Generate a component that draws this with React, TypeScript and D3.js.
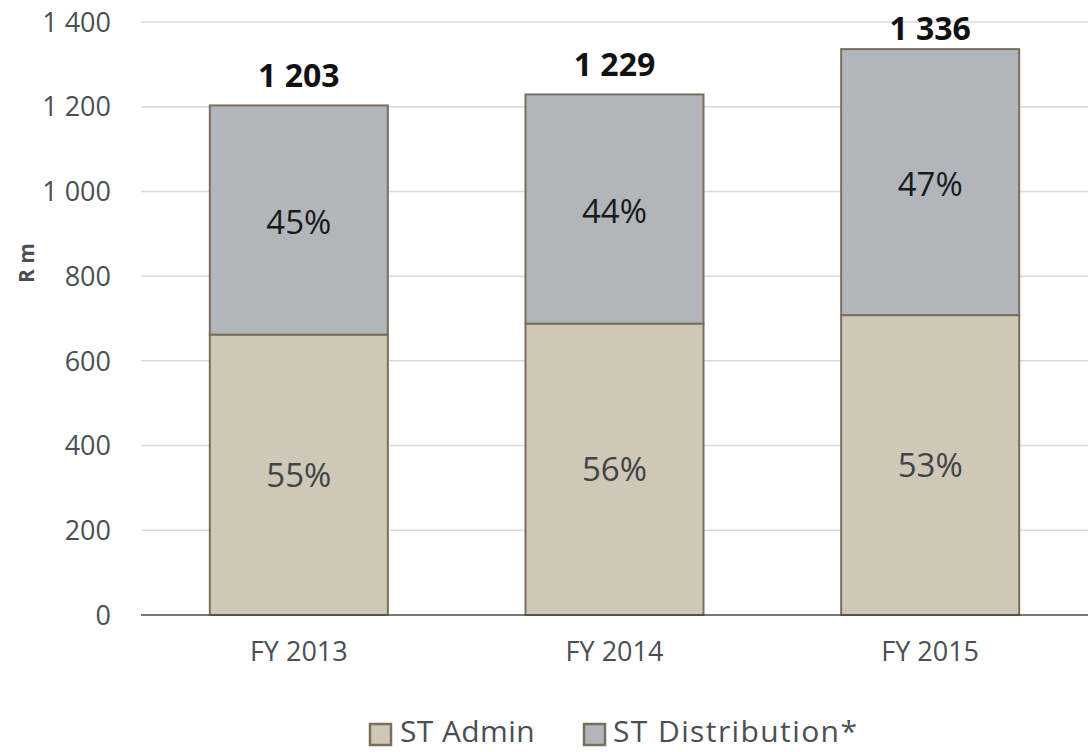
import { useMemo } from 'react';
import * as d3 from 'd3';

const categories = ['FY 2013', 'FY 2014', 'FY 2015'];
const admin = [662, 688, 708];
const distribution = [541, 541, 628];
const totals = [1203, 1229, 1336];
const adminPct = ['55%', '56%', '53%'];
const distPct = ['45%', '44%', '47%'];
const yTicks = [0, 200, 400, 600, 800, 1000, 1200, 1400];

const W = 1092;
const H = 752;
const margin = { top: 22, right: 4, bottom: 137, left: 141 };
const FONT = '"Open Sans", "Noto Sans", sans-serif';

const fmt = d3.formatLocale({ decimal: '.', thousands: ' ', grouping: [3], currency: ['', ''] }).format(',d');

export default function App() {
  const x = useMemo(
    () => d3.scaleBand().domain(categories).range([margin.left, W - margin.right]).paddingInner(0.436).paddingOuter(0.218),
    []
  );
  const y = useMemo(() => d3.scaleLinear().domain([0, 1400]).range([H - margin.bottom, margin.top]), []);

  const stack = categories.map((c, i) => ({ c, a: admin[i], d: distribution[i], t: totals[i], ap: adminPct[i], dp: distPct[i] }));

  return (
    <svg width={W} height={H} style={{ position: 'absolute', left: 0, top: 0, background: '#fff' }} fontFamily={FONT}>
      {yTicks.map((t) => (
        <g key={t}>
          {t > 0 && <line x1={margin.left} x2={W - margin.right} y1={y(t)} y2={y(t)} stroke="#d9d9d9" strokeWidth={1.5} />}
          <text x={111} y={y(t)} dy="0.36em" textAnchor="end" fontSize={27} fill="#4a4f55">
            {fmt(t)}
          </text>
        </g>
      ))}
      <text transform="translate(26,263) rotate(-90)" textAnchor="middle" dy="0.36em" fontSize={21} fontWeight="bold" fill="#4a4f55">
        R m
      </text>
      {stack.map((s) => {
        const x0 = x(s.c)!;
        const bw = x.bandwidth();
        const cx = x0 + bw / 2;
        return (
          <g key={s.c}>
            <rect x={x0} width={bw} y={y(s.a)} height={y(0) - y(s.a)} fill="#cfc8b6" stroke="#7a6f5f" strokeWidth={2} />
            <rect x={x0} width={bw} y={y(s.a + s.d)} height={y(s.a) - y(s.a + s.d)} fill="#b2b6ba" stroke="#7a6f5f" strokeWidth={2} />
            <text x={cx} y={(y(0) + y(s.a)) / 2} dy="0.36em" textAnchor="middle" fontSize={33} fill="#404448">
              {s.ap}
            </text>
            <text x={cx} y={(y(s.a) + y(s.a + s.d)) / 2 + 2} dy="0.36em" textAnchor="middle" fontSize={33} fill="#1a1a1a">
              {s.dp}
            </text>
            <text x={cx} y={Math.max(y(s.t) - 30, 28)} dy="0.36em" textAnchor="middle" fontSize={32} fontWeight="bold" fill="#111">
              {fmt(s.t)}
            </text>
            <text x={cx} y={651} dy="0.36em" textAnchor="middle" fontSize={27} fill="#4a4f55">
              {s.c}
            </text>
          </g>
        );
      })}
      <line x1={margin.left} x2={W - margin.right} y1={y(0)} y2={y(0)} stroke="#4d4a44" strokeWidth={1.5} />
      <g>
        <rect x={370} y={724} width={21} height={21} fill="#cfc8b6" stroke="#7a6f5f" strokeWidth={2.5} />
        <text x={400} y={742} fontSize={30} fill="#4a4f55" letterSpacing={0.4}>ST Admin</text>
        <rect x={584} y={724} width={21} height={21} fill="#b2b6ba" stroke="#7a6f5f" strokeWidth={2.5} />
        <text x={613} y={742} fontSize={30} fill="#4a4f55" letterSpacing={1.4}>ST Distribution*</text>
      </g>
    </svg>
  );
}
